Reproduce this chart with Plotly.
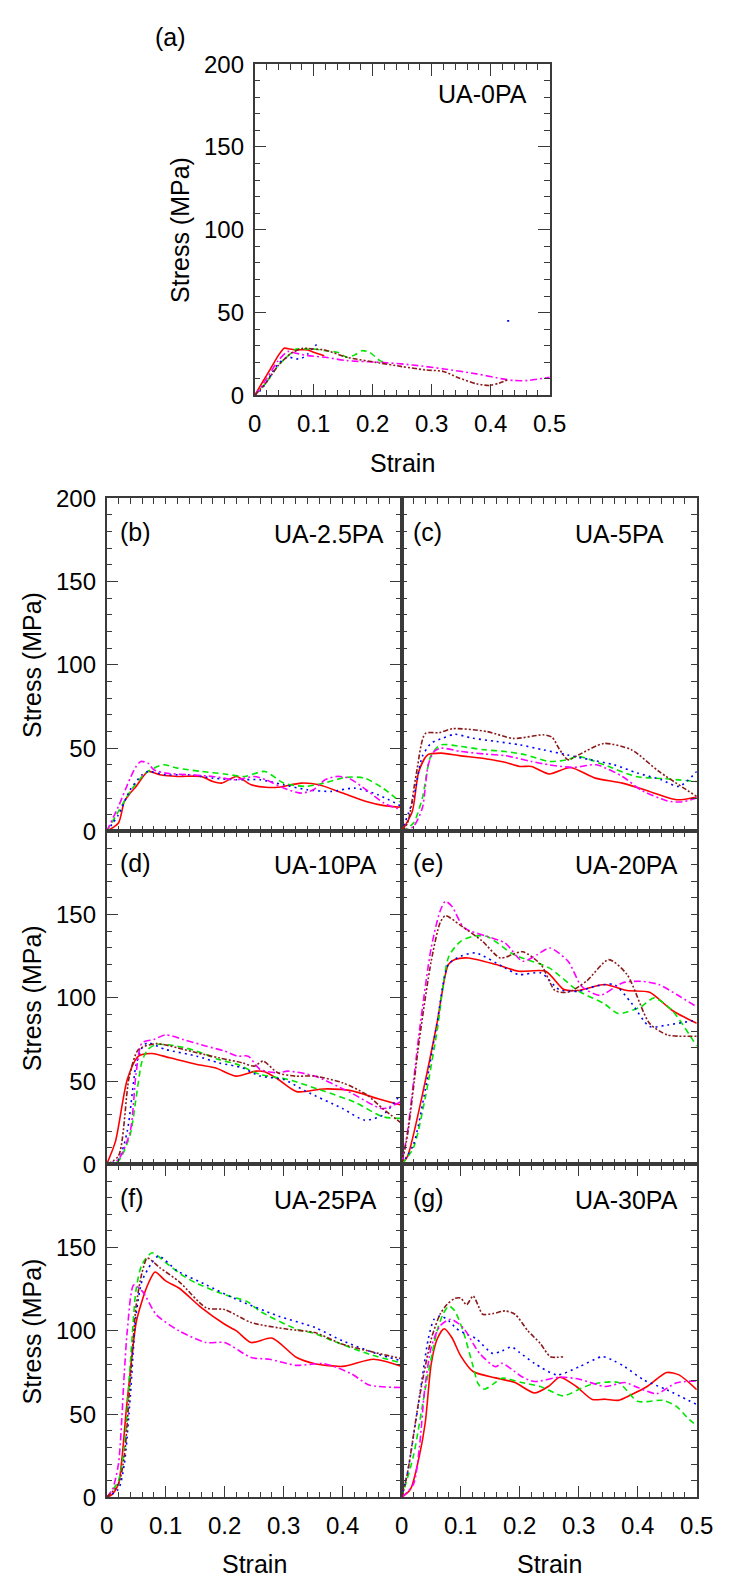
import plotly.graph_objects as go

# ---------------- data (strain, stress in MPa) ----------------
# (a) UA-0PA
a_red_x = [0, 0.01, 0.02, 0.03, 0.04, 0.05, 0.06, 0.07, 0.09, 0.1, 0.118]
a_red_y = [0, 6, 12, 18, 24, 28.5, 28, 27.5, 27.5, 26, 24]
a_green_x = [0, 0.02, 0.04, 0.06, 0.07, 0.09, 0.1, 0.12, 0.14, 0.157, 0.17, 0.182, 0.195, 0.212, 0.22]
a_green_y = [0, 8, 18, 25, 28, 28, 28, 27, 26, 23, 24.5, 27, 26, 21, 20]
a_blue_x = [0, 0.01, 0.02, 0.03, 0.04, 0.05, 0.06, 0.07, 0.08, 0.09, 0.1, 0.107, None, 0.428, 0.432]
a_blue_y = [0, 3, 8, 14, 19, 22, 23, 22, 22.5, 25, 29, 31.5, None, 45, 45]
a_magenta_x = [0, 0.02, 0.04, 0.056, 0.07, 0.09, 0.12, 0.157, 0.212, 0.267, 0.321, 0.376, 0.42, 0.44, 0.463, 0.5]
a_magenta_y = [0, 10, 21, 26.5, 25.5, 24, 23, 21, 20, 18.4, 16, 13, 10, 9, 9, 11]
a_brown_x = [0, 0.02, 0.04, 0.06, 0.081, 0.1, 0.119, 0.157, 0.212, 0.25, 0.289, 0.32, 0.343, 0.376, 0.398, 0.414, 0.43]
a_brown_y = [0, 8, 18, 25, 28.4, 28, 27.4, 23, 19.6, 17.4, 15.4, 14.5, 11, 7, 6, 7.4, 9.6]

# (b) UA-2.5PA
b_red_x = [0, 0.02, 0.03, 0.04, 0.05, 0.07, 0.09, 0.12, 0.16, 0.18, 0.195, 0.22, 0.245, 0.27, 0.29, 0.33, 0.36, 0.4, 0.44, 0.47, 0.5]
b_red_y = [0, 5, 18, 23, 27, 36, 34, 33, 33, 30, 29, 33, 28, 26.5, 26.5, 29, 28, 23, 18, 15.5, 14.5]
b_green_x = [0, 0.02, 0.04, 0.06, 0.07, 0.096, 0.12, 0.161, 0.2, 0.234, 0.268, 0.3, 0.337, 0.368, 0.406, 0.437, 0.468, 0.5]
b_green_y = [0, 12, 24, 33, 36, 40, 38, 36, 34.5, 33, 36, 29, 27, 29, 32.5, 32, 26, 17]
b_blue_x = [0, 0.02, 0.04, 0.06, 0.07, 0.1, 0.14, 0.18, 0.22, 0.26, 0.3, 0.34, 0.38, 0.42, 0.46, 0.5]
b_blue_y = [0, 10, 25, 34, 36, 34, 34, 32, 31, 31, 28, 25, 24, 26, 22, 15]
b_magenta_x = [0, 0.02, 0.04, 0.05, 0.058, 0.07, 0.08, 0.1, 0.14, 0.18, 0.22, 0.25, 0.27, 0.3, 0.33, 0.35, 0.37, 0.39, 0.41, 0.44, 0.47, 0.5]
b_magenta_y = [0, 15, 32, 39, 42, 41, 37, 35, 34, 33, 31, 33, 31, 26, 23, 25, 31, 33, 32, 25, 17, 13]
b_brown_x = []
b_brown_y = []

# (c) UA-5PA
c_red_x = [0, 0.018, 0.029, 0.044, 0.067, 0.098, 0.144, 0.175, 0.2, 0.22, 0.25, 0.286, 0.328, 0.374, 0.42, 0.466, 0.5]
c_red_y = [0, 12, 36, 46, 47, 45.5, 43.5, 41.5, 39, 39, 34.5, 38.4, 32, 29, 24, 19, 20.7]
c_green_x = [0, 0.02, 0.035, 0.05, 0.067, 0.1, 0.14, 0.175, 0.21, 0.25, 0.28, 0.3, 0.343, 0.397, 0.443, 0.5]
c_green_y = [0, 5, 20, 46, 52, 51, 49, 48, 46, 42, 43, 45, 40, 33, 31.7, 30]
c_blue_x = [0, 0.02, 0.035, 0.05, 0.07, 0.09, 0.12, 0.16, 0.2, 0.24, 0.28, 0.32, 0.36, 0.4, 0.44, 0.47, 0.5]
c_blue_y = [0, 20, 45, 53, 56, 58.3, 56, 54, 52, 49, 46, 43, 40, 35, 31, 27, 36]
c_magenta_x = [0, 0.02, 0.035, 0.045, 0.055, 0.067, 0.1, 0.14, 0.175, 0.22, 0.25, 0.29, 0.33, 0.374, 0.405, 0.45, 0.474, 0.5]
c_magenta_y = [0, 3, 14, 40, 48, 50, 48, 46.5, 45.5, 42, 40, 38.4, 40, 33, 25, 18.3, 17.7, 20]
c_brown_x = [0, 0.01, 0.025, 0.04, 0.064, 0.087, 0.144, 0.19, 0.24, 0.255, 0.267, 0.282, 0.3, 0.343, 0.39, 0.436, 0.5]
c_brown_y = [0, 5, 35, 58.7, 59.3, 61.7, 60, 55.8, 58, 56.5, 49.5, 43, 46, 52.8, 48.9, 36, 21]

# (d) UA-10PA
d_red_x = [0, 0.015, 0.035, 0.054, 0.077, 0.107, 0.153, 0.184, 0.219, 0.253, 0.268, 0.291, 0.322, 0.368, 0.414, 0.46, 0.5]
d_red_y = [0, 13.8, 51, 65, 66.6, 64, 60, 58, 53, 56, 55.6, 51, 43.7, 45.3, 44.3, 39.4, 35.5]
d_green_x = [0, 0.02, 0.04, 0.05, 0.06, 0.07, 0.084, 0.12, 0.153, 0.19, 0.222, 0.26, 0.307, 0.368, 0.42, 0.468, 0.5]
d_green_y = [0, 2, 18, 40, 62, 69, 72, 71, 68, 63, 60, 54, 51, 44, 37.4, 28.6, 27.6]
d_blue_x = [0, 0.02, 0.035, 0.05, 0.06, 0.069, 0.1, 0.153, 0.19, 0.23, 0.26, 0.3, 0.337, 0.4, 0.437, 0.468, 0.5]
d_blue_y = [0, 3, 20, 60, 70, 73, 69, 65, 61, 58, 53, 51, 44, 33.5, 26.6, 29.6, 43]
d_magenta_x = [0, 0.02, 0.04, 0.05, 0.06, 0.08, 0.1, 0.13, 0.169, 0.2, 0.222, 0.24, 0.26, 0.29, 0.307, 0.353, 0.414, 0.468, 0.5]
d_magenta_y = [0, 3, 20, 55, 73, 75, 77.8, 75, 71, 68, 65, 65, 57, 55, 56, 53, 43, 33.5, 38]
d_brown_x = [0, 0.02, 0.038, 0.054, 0.084, 0.12, 0.153, 0.19, 0.23, 0.25, 0.265, 0.29, 0.32, 0.353, 0.4, 0.44, 0.468, 0.5]
d_brown_y = [0, 5, 52, 69, 72.5, 70, 67, 64, 61, 59, 62, 55, 53, 53, 49, 42, 33.5, 24.6]

# (e) UA-20PA
e_red_x = [0, 0.01, 0.04, 0.06, 0.079, 0.09, 0.113, 0.16, 0.198, 0.244, 0.275, 0.298, 0.344, 0.382, 0.42, 0.458, 0.5]
e_red_y = [0, 5, 50, 85, 120, 123, 124, 120, 116, 116, 105, 104.4, 108, 104.4, 103.4, 92.6, 84.7]
e_green_x = [0, 0.02, 0.04, 0.06, 0.08, 0.1, 0.121, 0.144, 0.19, 0.25, 0.3, 0.343, 0.367, 0.405, 0.428, 0.458, 0.5]
e_green_y = [0, 10, 40, 80, 125, 134, 137, 137, 126, 118, 104, 96.6, 90.6, 94.6, 100, 92.6, 71]
e_blue_x = [0, 0.02, 0.04, 0.06, 0.079, 0.1, 0.125, 0.175, 0.198, 0.236, 0.267, 0.3, 0.328, 0.36, 0.39, 0.42, 0.45, 0.5]
e_blue_y = [0, 12, 45, 85, 120, 125, 127, 118, 114, 115, 105, 104, 107, 108, 96.6, 82.8, 83.7, 86.7]
e_magenta_x = [0, 0.01, 0.03, 0.05, 0.065, 0.074, 0.085, 0.106, 0.144, 0.175, 0.205, 0.23, 0.251, 0.282, 0.305, 0.336, 0.374, 0.405, 0.436, 0.466, 0.5]
e_magenta_y = [0, 20, 80, 130, 152, 158, 155, 142, 137, 133, 122, 126, 130, 122, 107, 101.5, 109, 110, 108, 102, 94.6]
e_brown_x = [0, 0.01, 0.03, 0.05, 0.065, 0.074, 0.098, 0.137, 0.167, 0.205, 0.236, 0.26, 0.282, 0.313, 0.351, 0.382, 0.42, 0.45, 0.5]
e_brown_y = [0, 18, 75, 122, 145, 149.4, 144, 134, 124, 127.7, 120, 104.4, 103.4, 110, 123, 114, 84.7, 77.8, 77]

# (f) UA-25PA
f_red_x = [0, 0.01, 0.02, 0.034, 0.05, 0.06, 0.07, 0.082, 0.1, 0.123, 0.161, 0.2, 0.22, 0.245, 0.28, 0.322, 0.353, 0.4, 0.452, 0.5]
f_red_y = [0, 2, 8, 55, 105, 118, 128, 135.4, 130, 125.6, 113.8, 104, 100, 93, 95.7, 84, 80.3, 78.7, 83, 78.7]
f_green_x = [0, 0.02, 0.03, 0.04, 0.05, 0.06, 0.077, 0.1, 0.13, 0.153, 0.2, 0.238, 0.26, 0.322, 0.353, 0.383, 0.445, 0.5]
f_green_y = [0, 10, 30, 80, 125, 140, 146.9, 141, 133, 128.5, 121.7, 117.7, 111.8, 101, 98.4, 94, 86, 80.7]
f_blue_x = [0, 0.02, 0.03, 0.04, 0.05, 0.06, 0.075, 0.088, 0.12, 0.169, 0.215, 0.291, 0.353, 0.4, 0.46, 0.5]
f_blue_y = [0, 5, 20, 60, 110, 130, 140, 145, 136, 127.6, 119.7, 108.9, 102, 94, 86, 82]
f_magenta_x = [0, 0.01, 0.02, 0.03, 0.035, 0.046, 0.061, 0.084, 0.123, 0.169, 0.2, 0.245, 0.276, 0.322, 0.368, 0.414, 0.445, 0.5]
f_magenta_y = [0, 5, 20, 75, 100, 127.6, 123.6, 109.8, 100, 93, 93, 84, 83, 79.3, 80.3, 74.4, 67.5, 66]
f_brown_x = [0, 0.02, 0.03, 0.04, 0.05, 0.06, 0.069, 0.09, 0.123, 0.169, 0.2, 0.245, 0.307, 0.353, 0.4, 0.5]
f_brown_y = [0, 8, 25, 70, 115, 135, 143.7, 138, 129.5, 113.8, 112.8, 105, 101, 99, 92, 83.3]

# (g) UA-30PA
g_red_x = [0, 0.015, 0.03, 0.04, 0.05, 0.06, 0.072, 0.085, 0.1, 0.121, 0.159, 0.192, 0.225, 0.25, 0.268, 0.296, 0.323, 0.345, 0.367, 0.389, 0.416, 0.449, 0.47, 0.5]
g_red_y = [0, 5, 25, 45, 80, 95, 101.3, 96, 85, 75.6, 71.8, 69, 62.7, 67, 72.2, 66.6, 58.8, 59, 58.3, 61.7, 66.6, 75, 73.6, 64.7]
g_green_x = [0, 0.02, 0.04, 0.06, 0.07, 0.08, 0.09, 0.104, 0.12, 0.13, 0.14, 0.155, 0.17, 0.203, 0.235, 0.274, 0.301, 0.323, 0.367, 0.4, 0.443, 0.465, 0.487, 0.5]
g_green_y = [0, 25, 65, 100, 110, 115, 112, 100, 80, 68, 65, 68, 71.6, 69, 66.6, 61, 65, 68, 69, 57.7, 58.3, 54.8, 46.9, 43]
g_blue_x = [0, 0.01, 0.03, 0.045, 0.055, 0.066, 0.08, 0.093, 0.11, 0.126, 0.154, 0.17, 0.186, 0.2, 0.225, 0.263, 0.301, 0.34, 0.36, 0.378, 0.41, 0.449, 0.5]
g_blue_y = [0, 15, 60, 95, 107, 109, 106, 101.3, 98, 95.4, 86.5, 88, 90.4, 87, 80.5, 73.6, 78.5, 84.5, 82, 78.5, 70.6, 64.7, 55.8]
g_magenta_x = [0, 0.02, 0.03, 0.039, 0.05, 0.065, 0.083, 0.104, 0.132, 0.159, 0.17, 0.19, 0.203, 0.225, 0.268, 0.301, 0.345, 0.378, 0.4, 0.432, 0.465, 0.5]
g_magenta_y = [0, 8, 30, 64.7, 90, 103, 107, 102, 86.5, 78.5, 80.5, 76, 72.6, 69.6, 72.2, 71, 66.6, 69, 66, 62.3, 68.7, 70]
g_brown_x = [0, 0.01, 0.03, 0.05, 0.065, 0.077, 0.09, 0.1, 0.11, 0.121, 0.13, 0.137, 0.155, 0.175, 0.192, 0.214, 0.235, 0.252, 0.274]
g_brown_y = [0, 15, 60, 95, 110, 116, 119.5, 119.7, 115.7, 121, 115, 110, 110.4, 112, 110, 100, 92.4, 84.5, 84.5]

panel_names = ["UA-0PA", "UA-2.5PA", "UA-5PA", "UA-10PA", "UA-20PA", "UA-25PA", "UA-30PA"]
panel_letters = ["(a)", "(b)", "(c)", "(d)", "(e)", "(f)", "(g)"]
x_tick_vals = [0, 0.1, 0.2, 0.3, 0.4, 0.5]
x_tick_text = ["0", "0.1", "0.2", "0.3", "0.4", "0.5"]
y_tick_vals = [0, 50, 100, 150, 200]
y_tick_text = ["0", "50", "100", "150", "200"]

# ---------------- styling ----------------
FONT = "Arial, Liberation Sans, sans-serif"
AX = "#3a3a3a"
STYLES = {
    "red": dict(color="#FF0000", dash="solid"),
    "green": dict(color="#00E600", dash="6px,4px"),
    "blue": dict(color="#0000FF", dash="2px,4px"),
    "magenta": dict(color="#FF00FF", dash="7px,3px,2px,3px"),
    "brown": dict(color="#8B1A1A", dash="5px,2px,2px,2px,2px,2px"),
}

panels = {
    "a": [(a_red_x, a_red_y, "red"), (a_green_x, a_green_y, "green"), (a_blue_x, a_blue_y, "blue"),
          (a_magenta_x, a_magenta_y, "magenta"), (a_brown_x, a_brown_y, "brown")],
    "b": [(b_red_x, b_red_y, "red"), (b_green_x, b_green_y, "green"), (b_blue_x, b_blue_y, "blue"),
          (b_magenta_x, b_magenta_y, "magenta"), (b_brown_x, b_brown_y, "brown")],
    "c": [(c_red_x, c_red_y, "red"), (c_green_x, c_green_y, "green"), (c_blue_x, c_blue_y, "blue"),
          (c_magenta_x, c_magenta_y, "magenta"), (c_brown_x, c_brown_y, "brown")],
    "d": [(d_red_x, d_red_y, "red"), (d_green_x, d_green_y, "green"), (d_blue_x, d_blue_y, "blue"),
          (d_magenta_x, d_magenta_y, "magenta"), (d_brown_x, d_brown_y, "brown")],
    "e": [(e_red_x, e_red_y, "red"), (e_green_x, e_green_y, "green"), (e_blue_x, e_blue_y, "blue"),
          (e_magenta_x, e_magenta_y, "magenta"), (e_brown_x, e_brown_y, "brown")],
    "f": [(f_red_x, f_red_y, "red"), (f_green_x, f_green_y, "green"), (f_blue_x, f_blue_y, "blue"),
          (f_magenta_x, f_magenta_y, "magenta"), (f_brown_x, f_brown_y, "brown")],
    "g": [(g_red_x, g_red_y, "red"), (g_green_x, g_green_y, "green"), (g_blue_x, g_blue_y, "blue"),
          (g_magenta_x, g_magenta_y, "magenta"), (g_brown_x, g_brown_y, "brown")],
}

W, H = 735, 1593
def px(xp):
    return xp / W
def py(yp):
    return 1 - yp / H

# pixel boxes (left, right, top, bottom)
boxes = {
    "a": (256, 561, 51, 388),
    "b": (103, 408, 492.7, 831.5),
    "c": (408, 713, 492.7, 831.5),
    "d": (103, 408, 831.5, 1170.2),
    "e": (408, 713, 831.5, 1170.2),
    "f": (103, 408, 1170.2, 1509),
    "g": (408, 713, 1170.2, 1509),
}
order = ["a", "b", "c", "d", "e", "f", "g"]

fig = go.Figure()
minor_x = [round(i * 0.02, 3) for i in range(26)]
minor_y = [i * 10 for i in range(21)]

for i, key in enumerate(order):
    n = "" if i == 0 else str(i + 1)
    for xs, ys, s in panels[key]:
        if not xs:
            continue
        st = STYLES[s]
        fig.add_trace(go.Scatter(
            x=xs, y=ys, mode="lines", xaxis="x" + n, yaxis="y" + n,
            line=dict(color=st["color"], dash=st["dash"], width=1.6, shape="spline", smoothing=0.7),
            showlegend=False, hoverinfo="skip"))
    l, r, t, b = boxes[key]
    # x labels
    if key in ("a", "g"):
        xt = x_tick_text
    elif key == "f":
        xt = x_tick_text[:-1] + [""]
    else:
        xt = [""] * len(x_tick_text)
    if key in ("a", "b"):
        yt = y_tick_text
    elif key in ("d", "f"):
        yt = y_tick_text[:-1] + [""]
    else:
        yt = [""] * len(y_tick_text)
    common = dict(showline=True, linecolor=AX, linewidth=1.6, mirror="allticks",
                  ticks="inside", ticklen=12, tickwidth=1.3, tickcolor=AX,
                  showgrid=False, zeroline=False,
                  tickfont=dict(family=FONT, size=24, color="#000"))
    fig.update_layout(**{
        "xaxis" + n: dict(common, domain=[px(l), px(r)], range=[0, 0.5], anchor="y" + n,
                          tickmode="array", tickvals=x_tick_vals, ticktext=xt, ticklabelstandoff=6,
                          minor=dict(ticks="inside", ticklen=6, tickwidth=1.2, tickcolor=AX,
                                     tickmode="array", tickvals=minor_x, showgrid=False)),
        "yaxis" + n: dict(common, domain=[py(b), py(t)], range=[0, 200], anchor="x" + n,
                          tickmode="array", tickvals=y_tick_vals, ticktext=yt, ticklabelstandoff=4,
                          minor=dict(ticks="inside", ticklen=6, tickwidth=1.2, tickcolor=AX,
                                     tickmode="array", tickvals=minor_y, showgrid=False)),
    })

ann = []
def text(x, y, s, xanchor="center", angle=0, size=25):
    ann.append(dict(x=px(x), y=py(y), xref="paper", yref="paper", text=s, showarrow=False,
                    xanchor=xanchor, yanchor="middle", textangle=angle,
                    font=dict(family=FONT, size=size, color="#000")))

# panel (a) labels
text(169, 23, panel_letters[0])
text(540, 81, panel_names[0], xanchor="right")
text(179, 219.5, "Stress (MPa)", angle=-90)
text(408.5, 457, "Strain")
# grid labels
letter_pos = {"b": (115, 527), "c": (418, 527), "d": (115, 864), "e": (418, 864), "f": (115, 1204), "g": (418, 1204)}
name_pos = {"b": (392, 529), "c": (681, 529), "d": (385, 866), "e": (696, 866), "f": (385, 1206), "g": (696, 1206)}
for i, key in enumerate(order[1:], start=1):
    lx, ly = letter_pos[key]
    text(lx, ly, panel_letters[i], xanchor="left")
    nx, ny = name_pos[key]
    text(nx, ny, panel_names[i], xanchor="right")
for yc in (662, 1001, 1340):
    text(26, yc, "Stress (MPa)", angle=-90)
text(255.5, 1577, "Strain")
text(560.5, 1577, "Strain")

fig.update_layout(width=W, height=H, margin=dict(l=0, r=0, t=0, b=0),
                  paper_bgcolor="white", plot_bgcolor="white", annotations=ann)
fig.write_html("out.html")
